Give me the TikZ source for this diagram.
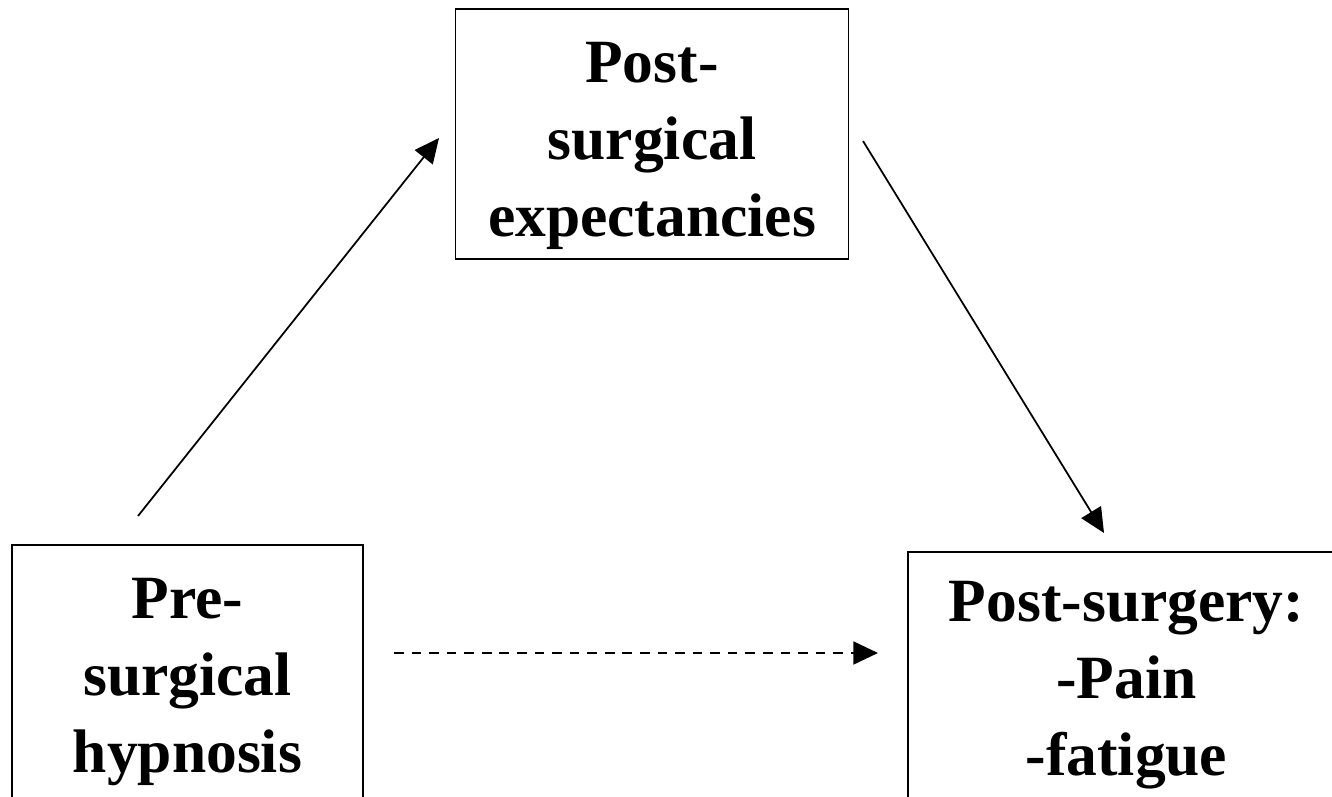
\documentclass[tikz,border=0pt]{standalone}
\usepackage{fontspec}
\setmainfont{Liberation Serif}
\usetikzlibrary{arrows.meta,positioning}

\begin{document}
\begin{tikzpicture}[x=0.02cm,y=-0.02cm,>={Triangle[length=14pt,width=13pt]}]
    \tikzset{block/.style={
      draw,
      rectangle,
      line width=0.8pt,
      align=center,
      font=\bfseries\fontsize{35pt}{44pt}\selectfont
    }};

    \useasboundingbox (0,0) rectangle (1332,797);

    \node [block, minimum width=7.86cm, minimum height=5cm, text height=117pt, text depth=0pt] (expect) at (652,134) {Post-\\surgical\\expectancies};
    \node [block, minimum width=7.02cm, minimum height=5.48cm] (hypno) at (187.5,682) {Pre-\\surgical\\hypnosis};
    \node [block, minimum width=8.74cm, minimum height=5.32cm] (pain) at (1126.5,685) {Post-surgery:\\-Pain\\-fatigue};

    \coordinate (hypnoUp) at (138,516);
    \coordinate (expectIn) at (439,138);
    \coordinate (expectOut) at (863,141);
    \coordinate (painIn) at (1104,533);
    \coordinate (hypnoRight) at (394,653);
    \coordinate (painLeft) at (878,653);

    \path[draw,->,line width=1pt] (hypnoUp) -- (expectIn);
    \path[draw,->,line width=1pt] (expectOut) -- (painIn);
    \path[draw,->,line width=1.3pt,dash pattern=on 5.5pt off 4.5pt] (hypnoRight) -- (painLeft);

  \end{tikzpicture}
\end{document}
